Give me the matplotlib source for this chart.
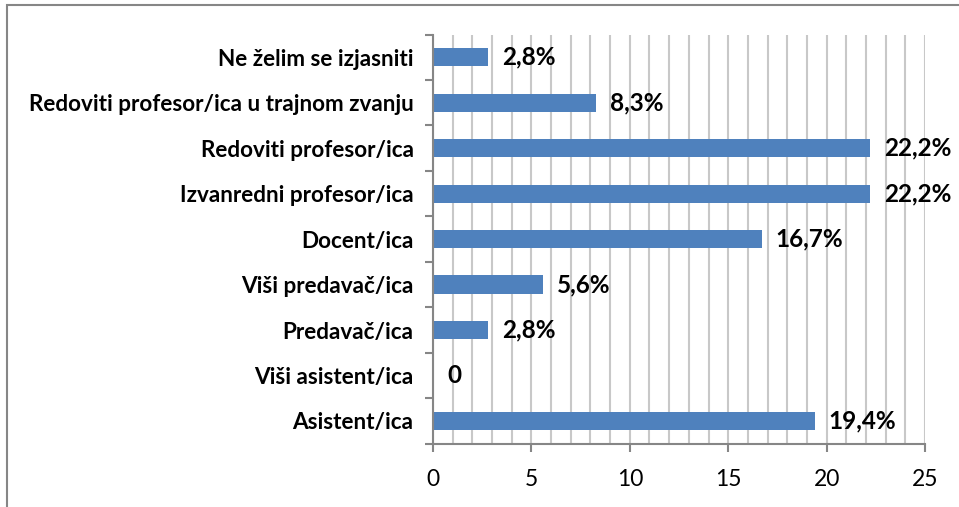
import matplotlib
matplotlib.use("Agg")
import matplotlib.pyplot as plt
from matplotlib.patches import Rectangle
from matplotlib.ticker import MultipleLocator, FixedLocator

categories = ["Asistent/ica", "Viši asistent/ica", "Predavač/ica", "Viši predavač/ica",
              "Docent/ica", "Izvanredni profesor/ica", "Redoviti profesor/ica",
              "Redoviti profesor/ica u trajnom zvanju", "Ne želim se izjasniti"]
values = [19.4, 0, 2.8, 5.6, 16.7, 22.2, 22.2, 8.3, 2.8]
value_labels = ["19,4%", "0", "2,8%", "5,6%", "16,7%", "22,2%", "22,2%", "8,3%", "2,8%"]
x_ticks = [0, 5, 10, 15, 20, 25]

W, H = 959, 507
fig = plt.figure(figsize=(W / 100, H / 100), dpi=100)
fam = ["Lato", "DejaVu Sans"]

# outer frame (partially cut)
fig.patches.append(Rectangle((7 / W, -0.1), 1.2, (H - 5) / H + 0.1, transform=fig.transFigure,
                             fill=False, edgecolor="#868686", linewidth=1.5))

ax = fig.add_axes([433 / W, 1 - 443.7 / H, (925 - 433) / W, (443.7 - 34.5) / H])
ypos = list(range(len(categories)))
ax.barh(ypos, values, height=0.4, color="#4F81BD", zorder=3)
ax.set_xlim(0, 25)
ax.set_ylim(-0.5, len(categories) - 0.5)

ax.xaxis.set_minor_locator(MultipleLocator(1))
ax.set_xticks(x_ticks)
ax.set_xticklabels([str(t) for t in x_ticks], fontsize=16.5, family=fam)
ax.grid(axis="x", which="both", color="#C8C8C8", linewidth=1.5, zorder=0)
ax.tick_params(axis="x", which="major", length=6, width=1.5, color="#868686", pad=12)
ax.tick_params(axis="x", which="minor", length=0)

ax.set_yticks(ypos)
ax.set_yticklabels(categories, fontsize=16.2, fontweight="bold", family=fam)
ax.tick_params(axis="y", which="major", length=0, pad=14)
ax.yaxis.set_minor_locator(FixedLocator([i - 0.5 for i in range(len(categories) + 1)]))
ax.tick_params(axis="y", which="minor", length=6, width=1.5, color="#868686")

for s in ["top", "right"]:
    ax.spines[s].set_visible(False)
for s in ["left", "bottom"]:
    ax.spines[s].set_color("#868686")
    ax.spines[s].set_linewidth(1.5)
    ax.spines[s].set_zorder(4)

for y, v, lab in zip(ypos, values, value_labels):
    ax.annotate(lab, (v, y), xytext=(14, 0), textcoords="offset pixels",
                va="center", ha="left", fontsize=17.5, fontweight="bold", family=fam,
                annotation_clip=False)

fig.savefig("out.png", dpi=100)
